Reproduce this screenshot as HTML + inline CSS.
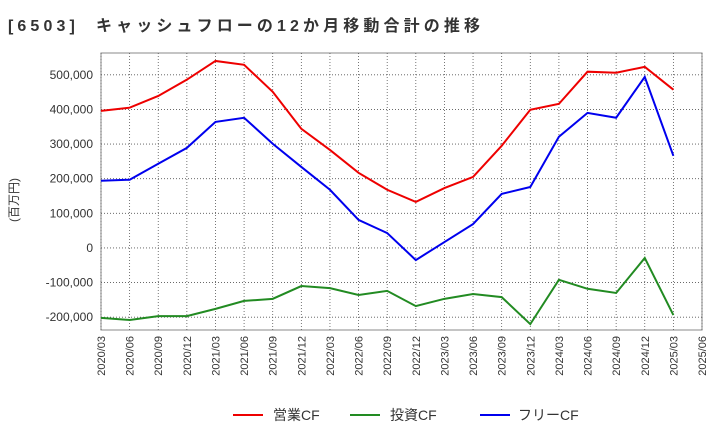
<!DOCTYPE html>
<html><head><meta charset="utf-8"><style>
body{margin:0;background:#fff;}
svg{font-family:"Liberation Sans","Noto Sans CJK JP",sans-serif;}
</style></head><body>
<svg width="720" height="440" xmlns="http://www.w3.org/2000/svg">
<text x="8" y="31" font-size="16" font-weight="bold" fill="#333" textLength="472" lengthAdjust="spacing">[6503]&#160; キャッシュフローの12か月移動合計の推移</text>
<text transform="translate(18,200) rotate(-90)" font-size="12" fill="#333" text-anchor="middle">(百万円)</text>
<g id="grid"></g><g id="axes"></g><g id="series"></g>
<g>
<line x1="233" y1="415" x2="263" y2="415" stroke="#e00" stroke-width="2"/>
<text x="273" y="420" font-size="14" fill="#333">営業CF</text>
<line x1="350" y1="415" x2="380" y2="415" stroke="#228b22" stroke-width="2"/>
<text x="390" y="420" font-size="14" fill="#333">投資CF</text>
<line x1="480" y1="415" x2="510" y2="415" stroke="#00e" stroke-width="2"/>
<text x="518" y="420" font-size="14" fill="#333">フリーCF</text>
</g>
</svg>
<script>
const categories=["2020/03","2020/06","2020/09","2020/12","2021/03","2021/06","2021/09","2021/12","2022/03","2022/06","2022/09","2022/12","2023/03","2023/06","2023/09","2023/12","2024/03","2024/06","2024/09","2024/12","2025/03","2025/06"];
const operatingCF=[396000,405000,439000,486000,540000,529000,451000,344000,283000,217000,168000,133000,173000,205000,295000,399000,416000,509000,506000,523000,457000];
const investingCF=[-202000,-208000,-197000,-197000,-176000,-153000,-147000,-110000,-116000,-136000,-124000,-168000,-147000,-133000,-142000,-220000,-92000,-118000,-130000,-29000,-194000];
const freeCF=[194000,197000,243000,289000,364000,376000,301000,234000,168000,81000,43000,-35000,17000,69000,156000,176000,321000,390000,376000,494000,266000];
const yTicks=[-200000,-100000,0,100000,200000,300000,400000,500000];
const yTickLabels=["-200,000","-100,000","0","100,000","200,000","300,000","400,000","500,000"];
const L=101,R=702,T=53,B=330,yMin=-237000,yMax=563000;
const NS="http://www.w3.org/2000/svg";
function xs(i){return L+(R-L)*i/(categories.length-1);}
function ys(v){return B-(v-yMin)/(yMax-yMin)*(B-T);}
function mk(tag,attrs,parent){const e=document.createElementNS(NS,tag);for(const k in attrs)e.setAttribute(k,attrs[k]);document.getElementById(parent).appendChild(e);return e;}
const bg=mk('rect',{x:L,y:T,width:R-L,height:B-T,fill:'#fff',stroke:'#888'},'grid');


categories.forEach((c,i)=>{
  const g=mk('line',{x1:xs(i),x2:xs(i),y1:T,y2:B,stroke:'#555','stroke-dasharray':'1,2','stroke-width':0.8},'grid');
  
  
  const t=mk('text',{transform:`translate(${xs(i)+4},${B+6}) rotate(-90)`,'font-size':11,fill:'#333','text-anchor':'end'},'axes');
  t.textContent=c;
  
  
});
yTicks.forEach((v,i)=>{
  const g=mk('line',{x1:L,x2:R,y1:ys(v),y2:ys(v),stroke:'#555','stroke-dasharray':'1,2','stroke-width':0.8},'grid');
  
  
  const t=mk('text',{x:L-8,y:ys(v)+4,'font-size':12,fill:'#333','text-anchor':'end'},'axes');
  t.textContent=yTickLabels[i];
  
  
});
function line(data,color,name){
  const p=mk('polyline',{points:data.map((v,i)=>xs(i)+','+ys(v)).join(' '),fill:'none',stroke:color,'stroke-width':2},'series');
  
  
}
line(operatingCF,'#e00','operating-cf-line');
line(investingCF,'#228b22','investing-cf-line');
line(freeCF,'#00e','free-cf-line');
</script>
</body></html>
